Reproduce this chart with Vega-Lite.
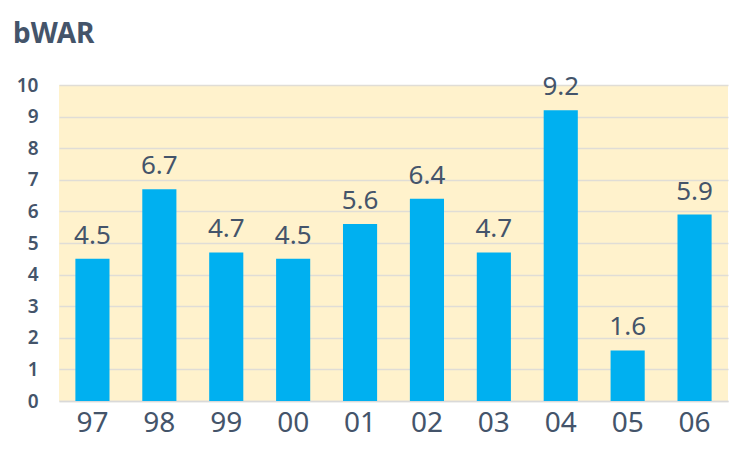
{
  "$schema": "https://vega.github.io/schema/vega-lite/v6.json",
  "width": 669,
  "height": 316,
  "autosize": "none",
  "padding": {"left": 59, "top": 85, "right": 24, "bottom": 51},
  "background": "white",
  "title": {
    "text": "bWAR",
    "anchor": "start",
    "frame": "group",
    "dx": -46,
    "offset": 3,
    "baseline": "alphabetic",
    "font": "Noto Sans",
    "fontSize": 28,
    "fontWeight": "bold",
    "color": "#44546A"
  },
  "data": {
    "values": [
      {"season": "97", "bwar": 4.5},
      {"season": "98", "bwar": 6.7},
      {"season": "99", "bwar": 4.7},
      {"season": "00", "bwar": 4.5},
      {"season": "01", "bwar": 5.6},
      {"season": "02", "bwar": 6.4},
      {"season": "03", "bwar": 4.7},
      {"season": "04", "bwar": 9.2},
      {"season": "05", "bwar": 1.6},
      {"season": "06", "bwar": 5.9}
    ]
  },
  "encoding": {
    "x": {
      "field": "season",
      "type": "ordinal",
      "sort": null,
      "scale": {"paddingInner": 0.49, "paddingOuter": 0.245},
      "axis": {
        "title": null,
        "labelAngle": 0,
        "ticks": false,
        "domain": true,
        "domainColor": "#D9D9D9",
        "domainWidth": 1.5,
        "labelFont": "Noto Sans",
        "labelFontSize": 28,
        "labelColor": "#44546A",
        "labelPadding": 8
      }
    },
    "y": {
      "field": "bwar",
      "type": "quantitative",
      "scale": {"domain": [0, 10]},
      "axis": {
        "title": null,
        "values": [0, 1, 2, 3, 4, 5, 6, 7, 8, 9, 10],
        "labelOverlap": false,
        "ticks": false,
        "domain": false,
        "grid": true,
        "gridColor": "#E0DDD6",
        "gridWidth": 1.5,
        "labelFont": "Noto Sans",
        "labelFontSize": 19,
        "labelFontWeight": 600,
        "labelColor": "#44546A",
        "labelPadding": 21
      }
    }
  },
  "layer": [
    {
      "mark": {"type": "bar", "color": "#00B0F0"}
    },
    {
      "mark": {
        "type": "text",
        "baseline": "alphabetic",
        "dy": -15,
        "font": "Noto Sans",
        "fontSize": 26,
        "color": "#44546A"
      },
      "encoding": {
        "text": {"field": "bwar", "type": "quantitative", "format": ".1f"}
      }
    }
  ],
  "config": {
    "view": {"fill": "#FFF2CC", "stroke": null}
  }
}
